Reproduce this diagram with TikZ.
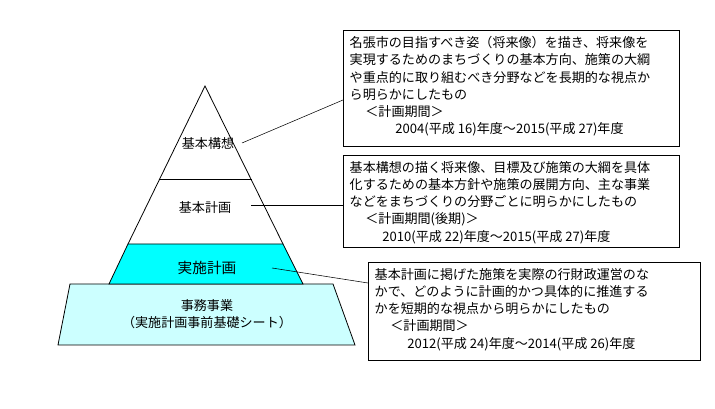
\documentclass[tikz,border=0pt]{standalone}
\usepackage{fontspec}
\setmainfont{Noto Sans CJK JP}
\definecolor{aqua}{RGB}{0,255,255}
\definecolor{paleaqua}{RGB}{204,255,255}
\begin{document}
\begin{tikzpicture}[x=0.75pt,y=-0.75pt,
  txt/.style={font=\fontsize{9.8pt}{12.8pt}\selectfont},
  ln/.style={thin}]
\useasboundingbox (0,0) rectangle (715,409);
\fill[white] (0,0) rectangle (715,409);
\draw[fill=paleaqua,semithick] (70,284) -- (333,284) -- (355,345) -- (58,345) -- cycle;
\draw[fill=aqua,semithick] (128,244) -- (283,244) -- (303,284) -- (109,284) -- cycle;
\draw[semithick] (128,244) -- (205,86) -- (283,244);
\draw[semithick] (160,179) -- (252,179);
\node[txt] (kk) at (208,144) {基本構想};
\node[txt] (kp) at (205,208) {基本計画};
\node[txt,font=\fontsize{11pt}{13pt}\selectfont] (jp) at (207,268) {実施計画};
\node[txt,align=center] (jm) at (207,314) {事務事業\\（実施計画事前基礎シート）};
\draw[semithick] (343,30) rectangle (679,146);
\node[txt,anchor=north west,align=left] (b1) at (345,32) {名張市の目指すべき姿（将来像）を描き、将来像を\\実現するためのまちづくりの基本方向、施策の大綱\\や重点的に取り組むべき分野などを長期的な視点か\\ら明らかにしたもの\\\hspace{1.2em}＜計画期間＞\\\hspace{3.5em}2004(平成 16)年度～2015(平成 27)年度};
\draw[semithick] (343,155) rectangle (679,247);
\node[txt,anchor=north west,align=left] (b2) at (345,157) {基本構想の描く将来像、目標及び施策の大綱を具体\\化するための基本方針や施策の展開方向、主な事業\\などをまちづくりの分野ごとに明らかにしたもの\\\hspace{1.2em}＜計画期間(後期)＞\\\hspace{2.5em}2010(平成 22)年度～2015(平成 27)年度};
\draw[semithick] (368,262) rectangle (700,360);
\node[txt,anchor=north west,align=left] (b3) at (370,264) {基本計画に掲げた施策を実際の行財政運営のな\\かで、どのように計画的かつ具体的に推進する\\かを短期的な視点から明らかにしたもの\\\hspace{1.2em}＜計画期間＞\\\hspace{2.5em}2012(平成 24)年度～2014(平成 26)年度};
\coordinate (c1) at (343,100);
\coordinate (c2) at (343,205);
\coordinate (c3) at (368,283);
\draw[ln] (242,143) -- (c1);
\draw[ln] (251,205) -- (c2);
\draw[ln] (272,268) -- (c3);
\end{tikzpicture}
\end{document}
